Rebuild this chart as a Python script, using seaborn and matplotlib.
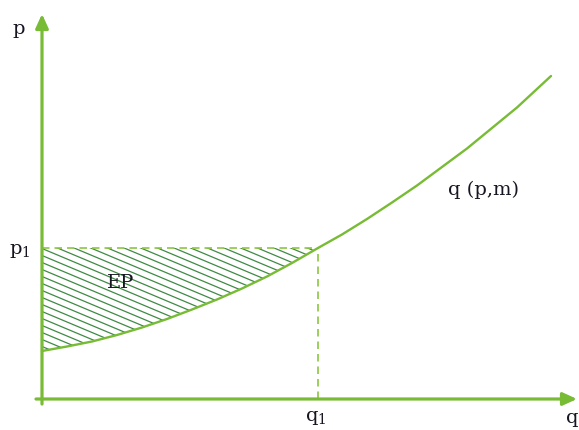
import numpy as np
import pandas as pd
import matplotlib
matplotlib.use("Agg")
import matplotlib.pyplot as plt
import seaborn as sns

# Demand curve q(p, m): quantity on the horizontal axis, price on the vertical axis
q_vals = [0.0, 0.5, 1.0, 1.5, 2.0, 2.5, 3.0, 3.5, 4.0, 4.5, 5.0, 5.52,
          6.0, 6.5, 7.0, 7.5, 8.0, 8.5, 9.0, 9.5, 10.18]
p_vals = [0.96, 1.05, 1.15, 1.28, 1.43, 1.60, 1.79, 1.99, 2.21, 2.45, 2.72, 3.02,
          3.29, 3.60, 3.93, 4.27, 4.64, 5.01, 5.42, 5.83, 6.46]

# Reference point (q1, p1)
q1 = 5.52
p1 = 3.02

axis_labels = ["p", "q"]
point_labels = [r"$\mathrm{p}_{\mathrm{1}}$", r"$\mathrm{q}_{\mathrm{1}}$"]
area_label = "EP"
curve_label = "q (p,m)"

sns.set_theme(style="white")
plt.rcParams["font.family"] = ["DejaVu Serif"]
plt.rcParams["mathtext.fontset"] = "dejavuserif"

green = "#78bb35"
dash_green = "#8cc63f"
hatch_green = "#3f8a45"
ink = "#161622"

fig = plt.figure(figsize=(5.79, 4.31), dpi=100)
ax = fig.add_axes([0, 0, 1, 1])
ax.set_xlim(-0.84, 10.74)
ax.set_ylim(-0.62, 8.0)
ax.axis("off")

df = pd.DataFrame({"q": q_vals, "p": p_vals})
sns.lineplot(data=df, x="q", y="p", color=green, linewidth=1.7, ax=ax,
             sort=False, zorder=4)

# Shaded area between the curve and p1, up to q1
seg = df[df["q"] <= q1 + 1e-9]
region = ax.fill_between(seg["q"], seg["p"], p1, facecolor="none",
                         edgecolor="none", zorder=2)
clip_path = region.get_paths()[0]
slope = -0.42
for c in np.arange(min(p_vals) - 0.05, p1 - slope * q1 + 0.2, 0.14):
    xs = np.array([-0.5, q1 + 0.5])
    ln, = ax.plot(xs, c + slope * xs, color=hatch_green, linewidth=0.9, zorder=3)
    ln.set_clip_path(clip_path, ax.transData)

# Dashed guides to p1 and q1
ax.plot([0, q1], [p1, p1], color=dash_green, linewidth=1.2,
        dashes=(4.5, 3), zorder=3)
ax.plot([q1, q1], [0, p1], color=dash_green, linewidth=1.2,
        dashes=(4.5, 3), zorder=3)

# Axes with arrow heads
arrow = dict(arrowstyle="-|>,head_length=0.7,head_width=0.32", color=green,
             lw=2.3, shrinkA=0, shrinkB=0)
ax.annotate("", xy=(0, 7.7), xytext=(0, -0.1), arrowprops=arrow, zorder=5)
ax.annotate("", xy=(10.7, 0), xytext=(-0.12, 0), arrowprops=arrow, zorder=5)

fs = 14
ax.text(-0.46, 7.42, axis_labels[0], fontsize=fs, color=ink, ha="center", va="center")
ax.text(10.6, -0.36, axis_labels[1], fontsize=fs, color=ink, ha="center", va="center")
ax.text(-0.44, p1 - 0.05, point_labels[0], fontsize=fs, color=ink, ha="center", va="center")
ax.text(q1 - 0.04, -0.37, point_labels[1], fontsize=fs, color=ink, ha="center", va="center")
ax.text(1.58, 2.34, area_label, fontsize=fs, color=ink, ha="center", va="center")
ax.text(8.84, 4.2, curve_label, fontsize=fs, color=ink, ha="center", va="center")

fig.savefig("out.png", dpi=100)
